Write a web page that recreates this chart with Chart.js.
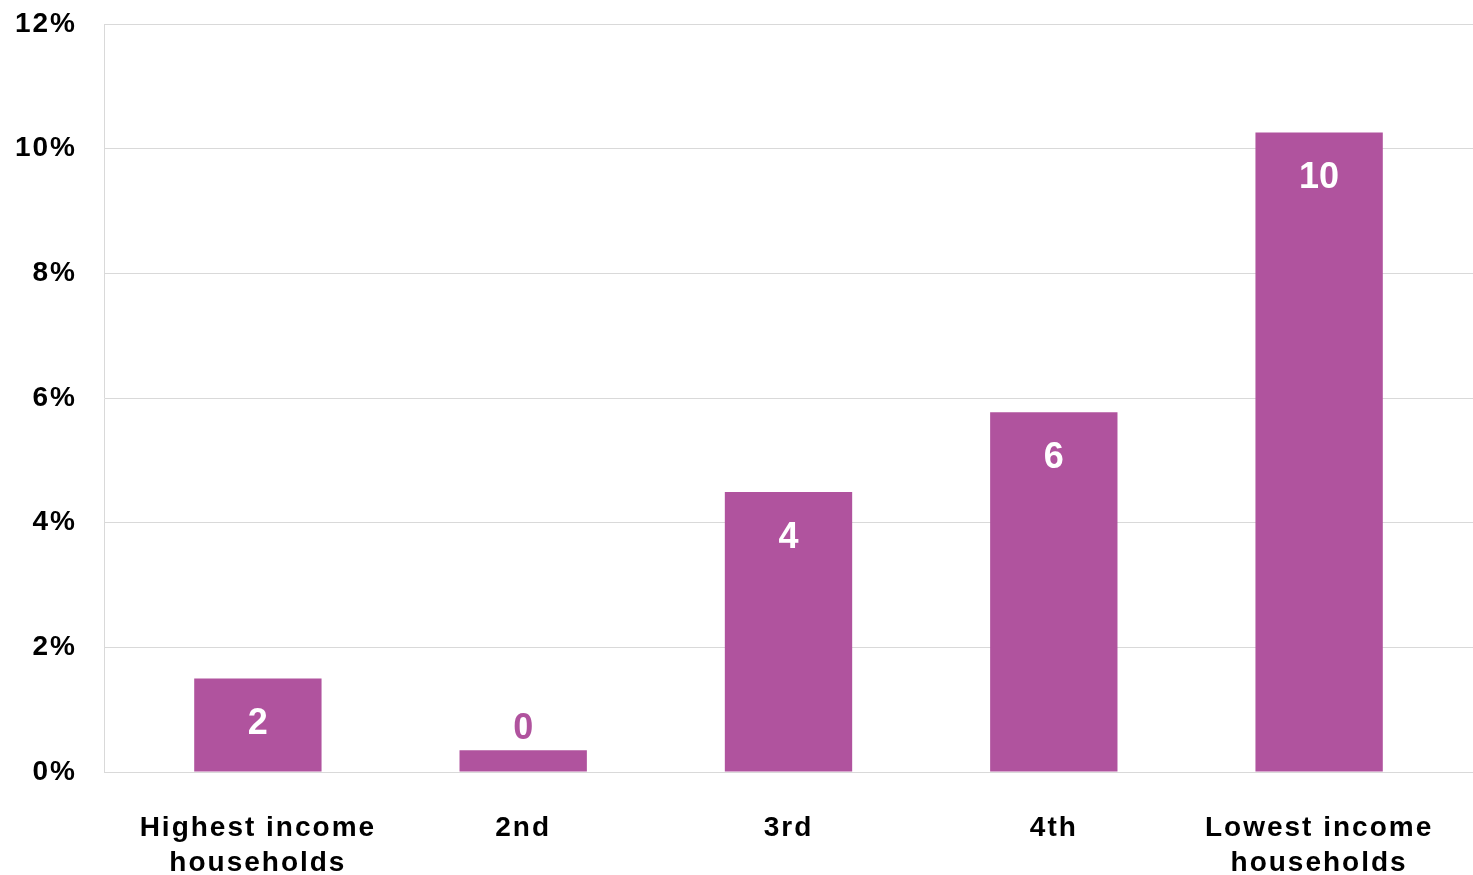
<!DOCTYPE html>
<html>
<head>
<meta charset="utf-8">
<title>Share by income group</title>
<script src="https://cdn.jsdelivr.net/npm/chart.js@4/dist/chart.umd.min.js"></script>
<style>
	html, body { margin: 0; padding: 0; background: #fff; }
	canvas { display: block; }
</style>
</head>
<body>
<canvas id="chart" width="1473" height="875"></canvas>
<script>
'use strict';

// income quintiles, highest to lowest
var incomeGroups = [
	['Highest income', 'households'],
	'2nd',
	'3rd',
	'4th',
	['Lowest income', 'households']
];

// percent of households in each group
var shareValues = [1.5, 0.35, 4.49, 5.77, 10.26];

var yTickValues = [0, 2, 4, 6, 8, 10, 12];

var barColor = '#b0539e',
	gridColor = '#d9d9d9',
	fontFamily = '"Liberation Sans", Arial, Helvetica, sans-serif';

/**
 * Tracking on axis text. Canvas resets this on resize, so set it
 * again before every layout and draw pass.
 */
var letterSpacingPlugin = {
	id: 'letterSpacing',
	beforeUpdate: function (chart) {
		chart.ctx.letterSpacing = '2px';
	},
	beforeDraw: function (chart) {
		chart.ctx.letterSpacing = '2px';
	}
};

/**
 * Rounded value inside the top of each bar; bars too short to hold
 * the number get it above them in the bar colour.
 */
var valueLabelPlugin = {
	id: 'valueLabels',
	afterDatasetsDraw: function (chart) {
		var ctx = chart.ctx,
			meta = chart.getDatasetMeta(0),
			data = chart.data.datasets[0].data;

		ctx.save();
		ctx.letterSpacing = '0px';
		ctx.font = 'bold 36px ' + fontFamily;
		ctx.textAlign = 'center';
		ctx.textBaseline = 'middle';

		meta.data.forEach(function (bar, i) {
			var text = String(Math.round(data[i].y)),
				height = bar.base - bar.y;

			if (height > 60) {
				ctx.fillStyle = '#ffffff';
				ctx.fillText(text, bar.x, bar.y + 46);
			} else {
				ctx.fillStyle = barColor;
				ctx.fillText(text, bar.x, bar.y - 21);
			}
		});
		ctx.restore();
	}
};

var points = shareValues.map(function (v, i) {
	return { x: i, y: v };
});

new Chart(document.getElementById('chart'), {
	type: 'bar',
	data: {
		datasets: [{
			data: points,
			backgroundColor: barColor,
			borderWidth: 0,
			barPercentage: 0.48,
			categoryPercentage: 1
		}]
	},
	options: {
		responsive: false,
		animation: false,
		events: [],
		layout: {
			padding: { top: 24, right: 0, bottom: 0, left: 0 }
		},
		plugins: {
			legend: { display: false },
			tooltip: { enabled: false }
		},
		scales: {
			x: {
				type: 'linear',
				offset: false,
				min: -0.58,
				max: 4.58,
				grid: { display: false, drawTicks: false, offset: false },
				border: { display: false },
				afterBuildTicks: function (scale) {
					scale.ticks = incomeGroups.map(function (g, i) {
						return { value: i };
					});
				},
				afterFit: function (scale) {
					scale.height = 103;
					scale.paddingLeft = 0;
					scale.paddingRight = 0;
				},
				ticks: {
					autoSkip: false,
					maxRotation: 0,
					padding: 39,
					color: '#000000',
					font: { family: fontFamily, size: 28, weight: 'bold', lineHeight: 1.25 },
					callback: function (value) {
						return incomeGroups[value];
					}
				}
			},
			y: {
				min: 0,
				max: 12,
				afterBuildTicks: function (scale) {
					scale.ticks = yTickValues.map(function (v) {
						return { value: v };
					});
				},
				afterFit: function (scale) {
					// tick padding would otherwise push the plot top down
					scale.width = 104;
					scale.paddingTop = 17;
					scale.paddingBottom = 17;
				},
				grid: {
					color: gridColor,
					lineWidth: 1,
					drawTicks: false
				},
				border: { display: true, color: gridColor, width: 1 },
				ticks: {
					padding: 27,
					color: '#000000',
					font: { family: fontFamily, size: 28, weight: 'bold' },
					callback: function (value) {
						return value + '%';
					}
				}
			}
		}
	},
	plugins: [letterSpacingPlugin, valueLabelPlugin]
});
</script>
</body>
</html>
